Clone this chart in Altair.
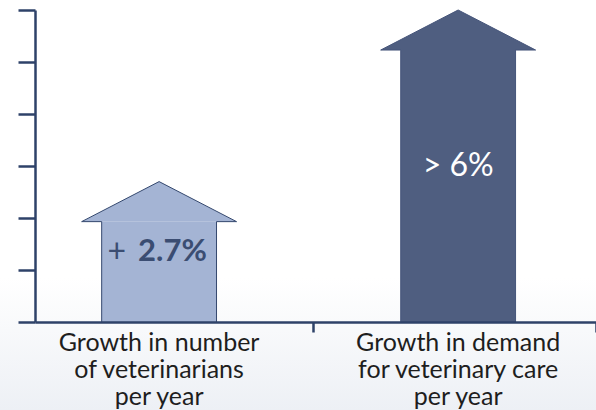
import altair as alt
import pandas as pd

# ---- data ----
categories = ["veterinarians", "demand"]
label_lines = [
    ["Growth in number", "of veterinarians", "per year"],
    ["Growth in demand", "for veterinary care", "per year"],
]
values = [2.7, 6.0]
prefixes = ["+", ">"]
numbers = ["2.7%", "6%"]
bold_number = [True, False]
y_ticks = [0, 1, 2, 3, 4, 5, 6]

# ---- style ----
FILLS = ["#a4b4d4", "#4f5e80"]
STROKES = ["#34486e", "#46557a"]
TEXT_COLORS = ["#3b4d72", "#ffffff"]
AXIS = "#2e4269"
FONT = "Lato"
SHAFT_HALF = 0.192   # x units
HEAD_HALF = 0.259    # x units
HEAD_H = 0.77        # y units

shafts, heads, outlines = [], [], []
for i, (cat, v) in enumerate(zip(categories, values)):
    c = i + 0.5
    a, b, h = SHAFT_HALF, HEAD_HALF, HEAD_H
    shafts.append({"cat": cat, "x": c - a, "x2": c + a, "y": 0, "y2": v - h})
    for x, y in [(c - b, v - h), (c, v), (c + b, v - h)]:
        heads.append({"cat": cat, "x": x, "top": y, "bot": v - h})
    pts = [(c - a, 0), (c - a, v - h), (c - b, v - h), (c, v),
           (c + b, v - h), (c + a, v - h), (c + a, 0)]
    for k, (x, y) in enumerate(pts):
        outlines.append({"cat": cat, "idx": k, "x": x, "y": y})
shafts = pd.DataFrame(shafts)
heads = pd.DataFrame(heads)
outlines = pd.DataFrame(outlines)

texts = pd.DataFrame({
    "cat": categories,
    "x": [i + 0.5 for i in range(len(categories))],
    "mid": [v / 2 for v in values],
    "prefix": prefixes,
    "number": numbers,
    "full": [p + " " + n for p, n in zip(prefixes, numbers)],
    "bold": bold_number,
    "label": ["\n".join(l) for l in label_lines],
    "zero": [0] * len(categories),
})

xscale = alt.Scale(domain=[0.085, 1.961], nice=False, zero=False)
yscale = alt.Scale(domain=[0, 6], nice=False, zero=True)
fill_scale = alt.Scale(domain=categories, range=FILLS)
stroke_scale = alt.Scale(domain=categories, range=STROKES)
color_scale = alt.Scale(domain=categories, range=TEXT_COLORS)

bg = alt.Chart(pd.DataFrame({"a": [0]})).mark_rect(
    fill=alt.LinearGradient(
        gradient="linear",
        stops=[alt.GradientStop(color="#ffffff", offset=0),
               alt.GradientStop(color="#edf0f5", offset=1)],
        x1=0, x2=0, y1=0, y2=1,
    )
).encode(x=alt.value(-35), x2=alt.value(561), y=alt.value(268), y2=alt.value(400))

shaft = alt.Chart(shafts).mark_rect(strokeWidth=0).encode(
    x=alt.X("x:Q", scale=xscale, axis=alt.Axis(
        values=[1.015, 1.96], labels=False, tickSize=10, tickWidth=2.5,
        domainWidth=2.5, domainColor=AXIS, tickColor=AXIS, grid=False,
        title=None, orient="bottom", zindex=1)),
    x2="x2:Q",
    y=alt.Y("y:Q", scale=yscale, axis=alt.Axis(
        values=y_ticks, labels=False, tickSize=17, tickWidth=2.5,
        domainWidth=2.5, domainColor=AXIS, tickColor=AXIS, grid=False,
        title=None, orient="left", zindex=1)),
    y2="y2:Q",
    fill=alt.Fill("cat:N", scale=fill_scale, legend=None),
)

head = alt.Chart(heads).mark_area(strokeWidth=0, interpolate="linear").encode(
    x=alt.X("x:Q", scale=xscale, axis=None),
    y=alt.Y("top:Q", scale=yscale, stack=None, axis=None),
    y2="bot:Q",
    fill=alt.Fill("cat:N", scale=fill_scale, legend=None),
    detail="cat:N",
)

outline = alt.Chart(outlines).mark_line(strokeWidth=1, interpolate="linear").encode(
    x=alt.X("x:Q", scale=xscale, axis=None),
    y=alt.Y("y:Q", scale=yscale, axis=None),
    stroke=alt.Stroke("cat:N", scale=stroke_scale, legend=None),
    order=alt.Order("idx:Q"),
    detail="cat:N",
)

tx = alt.X("x:Q", scale=xscale, axis=None)
ty = alt.Y("mid:Q", scale=yscale, axis=None)
tcolor = alt.Color("cat:N", scale=color_scale, legend=None)

plain = alt.Chart(texts).transform_filter("!datum.bold").mark_text(
    font=FONT, fontSize=32, baseline="middle", align="center"
).encode(x=tx, y=ty, text="full:N", color=tcolor)

plus = alt.Chart(texts).transform_filter("datum.bold").mark_text(
    font=FONT, fontSize=32, baseline="middle", align="right", dx=-33
).encode(x=tx, y=ty, text="prefix:N", color=tcolor)

num = alt.Chart(texts).transform_filter("datum.bold").mark_text(
    font=FONT, fontSize=31, fontWeight="bold", baseline="middle", align="left", dx=-21
).encode(x=tx, y=ty, text="number:N", color=tcolor)

labels = alt.Chart(texts).mark_text(
    font=FONT, fontSize=25, baseline="alphabetic", align="center",
    lineBreak="\n", lineHeight=27, dy=29, color="#1e1e1e"
).encode(x=tx, y=alt.Y("zero:Q", scale=yscale, axis=None), text="label:N")

chart = alt.layer(bg, shaft, head, outline, plain, plus, num, labels).resolve_axis(
    x="independent", y="independent"
).properties(
    width=561, height=312,
    autosize=alt.AutoSizeParams(type="none"),
    padding={"left": 35, "top": 10, "right": 0, "bottom": 88},
    background="white",
).configure_view(stroke=None)

chart.save("out.html", embed_options={"renderer": "svg", "actions": False})
